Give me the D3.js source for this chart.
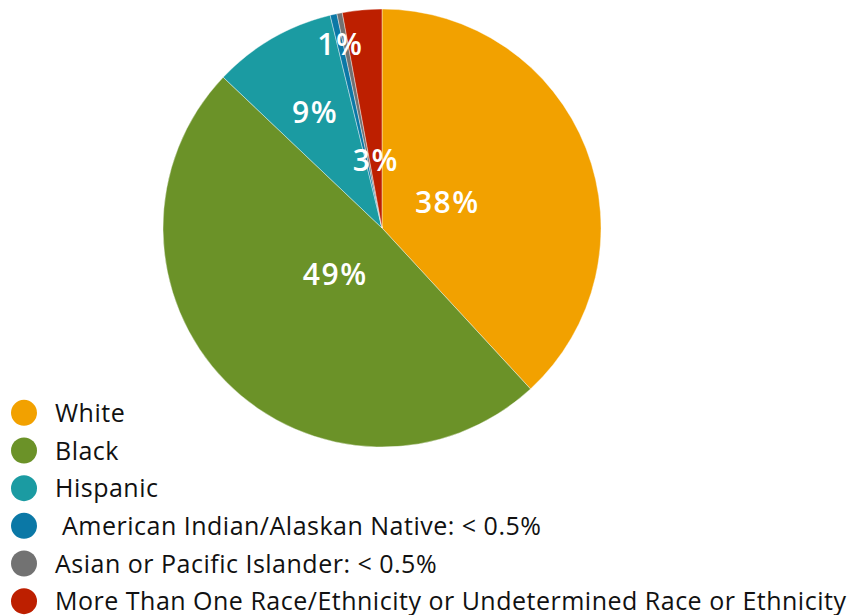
<!DOCTYPE html>
<html>
<head>
<meta charset="utf-8">
<script src="https://cdn.jsdelivr.net/npm/d3@7"></script>
<style>
  body { margin: 0; background: #fff; }
  text { font-family: "Open Sans", "Noto Sans", sans-serif; }
</style>
</head>
<body>
<div id="chart"></div>
<script>
// data (percent of total)
var groups = ["White", "Black", "Hispanic", " American Indian/Alaskan Native: < 0.5%",
              "Asian or Pacific Islander: < 0.5%",
              "More Than One Race/Ethnicity or Undetermined Race or Ethnicity"];
var shares = [38.1, 48.9, 9.1, 0.5, 0.4, 2.9];
var sliceLabels = ["38%", "49%", "9%", "1%", "", "3%"];
var colours = ["#f2a100", "#6b9228", "#1b9ba2", "#0b78a6", "#727272", "#bd1f00"];

var width = 862, height = 615;
var cx = 382, cy = 228, radius = 219;
// how far out each label sits, as share of the radius
var labelPos = [0.32, 0.30, 0.61, 0.86, 0, 0.31];

var svg = d3.select("#chart")
    .append("svg")
        .attr("width", width)
        .attr("height", height);

var pie = d3.pie().sort(null).value(function(d) { return d; });
var arcs = pie(shares);

var arc = d3.arc().innerRadius(0).outerRadius(radius);

var g = svg.append("g")
    .attr("transform", "translate(" + cx + "," + cy + ")");

g.selectAll("path.slice")
    .data(arcs)
    .enter().append("path")
        .attr("class", "slice")
        .attr("d", arc)
        .attr("fill", function(d, i) { return colours[i]; })
        .attr("stroke", "#fff")
        .attr("stroke-width", 0.4);

g.selectAll("text.lbl")
    .data(arcs)
    .enter().append("text")
        .attr("class", "lbl")
        .attr("transform", function(d, i) {
            var r = radius * labelPos[i];
            var la = d3.arc().innerRadius(r).outerRadius(r);
            return "translate(" + la.centroid(d) + ")";
        })
        .attr("text-anchor", "middle")
        .attr("dy", "0.36em")
        .attr("fill", "#fff")
        .style("font-size", "30px")
        .style("font-weight", "600")
        .style("letter-spacing", "1.5px")
        .text(function(d, i) { return sliceLabels[i]; });

// legend
var y = d3.scaleBand().domain(groups).range([394, 620]);

var leg = svg.append("g");
var rows = leg.selectAll("g")
    .data(groups)
    .enter().append("g")
        .attr("transform", function(d) { return "translate(0," + (y(d) + y.bandwidth() / 2) + ")"; });

rows.append("circle")
    .attr("cx", 24)
    .attr("r", 13)
    .attr("fill", function(d, i) { return colours[i]; });

rows.append("text")
    .attr("x", 55)
    .attr("dy", "0.36em")
    .attr("fill", "#111")
    .style("font-size", "25px")
    .style("letter-spacing", "0.5px")
    .attr("xml:space", "preserve")
    .text(function(d) { return d; });
</script>
</body>
</html>
